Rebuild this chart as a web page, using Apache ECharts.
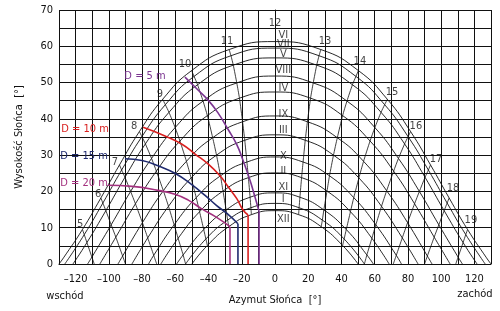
<!DOCTYPE html>
<html lang="pl">
<head>
    <meta charset="UTF-8">
    <title>Wykres drogi Słońca</title>
    <script src="https://cdn.jsdelivr.net/npm/echarts@6/dist/echarts.min.js"></script>
    <style>
        html, body, #chart {
            width: 500px;
            height: 311px;
            padding: 0;
            margin: 0;
            background: #fff;
        }
    </style>
</head>
<body>
<div id="chart"></div>
<script>
    // month curves, top to bottom
    var months = ["VI", "VII", "V", "VIII", "IV", "IX", "III", "X", "II", "XI", "I", "XII"];
    // afternoon sun positions [azimuth, altitude] at 12, 13, ... 20 h (null = below horizon)
    var sunVI   = [[0, 61.3], [27.6, 59.1], [50.2, 53.3], [67.6, 45.4], [81.6, 36.5], [93.6, 27.3], [104.8, 18.2], [115.9, 9.5], [127.3, 1.7]];
    var sunVII  = [[0, 59.5], [26.5, 57.4], [48.7, 51.7], [66.0, 43.9], [80.1, 35.1], [92.3, 25.9], [103.6, 16.8], [114.8, 8.1], null];
    var sunV    = [[0, 56.8], [25.1, 54.8], [46.6, 49.4], [63.8, 41.8], [78.0, 33.1], [90.3, 23.9], [101.8, 14.7], [113.2, 5.9], null];
    var sunVIII = [[0, 51.8], [23.0, 49.9], [43.3, 44.9], [60.1, 37.6], [74.3, 29.1], [86.9, 20.0], [98.6, 10.8], [110.2, 1.9], null];
    var sunIV   = [[0, 47.4], [21.4, 45.7], [40.7, 40.9], [57.2, 33.9], [71.4, 25.6], [84.0, 16.6], [95.8, 7.4], null, null];
    var sunIX   = [[0, 40.8], [19.5, 39.2], [37.5, 34.8], [53.3, 28.3], [67.2, 20.2], [79.8, 11.4], [91.7, 2.2], null, null];
    var sunIII  = [[0, 35.6], [18.2, 34.1], [35.2, 30.0], [50.5, 23.7], [64.1, 15.9], [76.6, 7.2], null, null, null];
    var sunX    = [[0, 29.5], [16.9, 28.1], [32.8, 24.3], [47.4, 18.3], [60.7, 10.8], [73.0, 2.4], null, null, null];
    var sunII   = [[0, 25.1], [16.0, 23.8], [31.3, 20.1], [45.4, 14.4], [58.3, 7.1], null, null, null, null];
    var sunXI   = [[0, 19.6], [15.0, 18.4], [29.4, 14.9], [42.9, 9.5], [55.3, 2.5], null, null, null, null];
    var sunI    = [[0, 16.7], [14.5, 15.5], [28.5, 12.1], [41.6, 6.9], null, null, null, null, null];
    var sunXII  = [[0, 14.7], [14.2, 13.6], [27.8, 10.3], [40.7, 5.1], null, null, null, null, null];
    var sunRows = [sunVI, sunVII, sunV, sunVIII, sunIV, sunIX, sunIII, sunX, sunII, sunXI, sunI, sunXII];
    // azimuth of sunset for each month (sunrise is the mirror)
    var sunsetAz = [130.0, 126.5, 121.6, 112.8, 105.4, 94.5, 86.1, 76.1, 68.7, 59.2, 53.8, 50.0];
    // hour lines that run down to the horizon: azimuth where they meet it
    var hourHorizonAz = {16: 53.8, 17: 71.2, 18: 90.0, 19: 108.8};
    var pmHours = [13, 14, 15, 16, 17, 18, 19];

    // shading limits for distance D to the obstruction, [azimuth, altitude]
    var dNames = ["D = 5 m", "D = 10 m", "D = 15 m", "D = 20 m"];
    var d5  = [[-54.2, 51.5], [-47.1, 48.3], [-40.1, 45.1], [-34.1, 41.5], [-28.1, 37.0], [-23.0, 32.9], [-19.1, 28.4], [-15.0, 23.0], [-12.0, 18.4], [-9.6, 14.5], [-9.6, 0]];
    var d10 = [[-79.4, 37.7], [-66.2, 35.3], [-56.0, 33.0], [-48.1, 30.3], [-40.1, 27.5], [-33.1, 24.3], [-28.1, 21.2], [-23.0, 18.0], [-19.1, 14.8], [-16.2, 13.5], [-16.2, 0]];
    var d15 = [[-90.3, 29.0], [-80.0, 28.5], [-70.0, 27.0], [-60.2, 25.0], [-50.1, 21.9], [-42.1, 18.9], [-35.1, 16.1], [-29.1, 14.0], [-22.3, 11.1], [-22.3, 0]];
    var d20 = [[-100.5, 21.7], [-86.0, 21.4], [-70.4, 20.3], [-60.2, 19.2], [-52.2, 17.6], [-44.1, 15.2], [-34.9, 12.8], [-27.1, 10.3], [-27.1, 0]];
    var dRows = [d5, d10, d15, d20];

    var FONT = "'Liberation Sans Narrow', 'DejaVu Sans Condensed', 'Liberation Sans', sans-serif";
    var dColors = ["#7b3591", "#d9201f", "#1f2a6e", "#a3317f"];

    var myChart = echarts.init(document.getElementById("chart"), null, {renderer: "canvas"});

    var series = [];

    // month curves: sunrise -> noon -> sunset
    sunRows.forEach(function (row, i) {
        var pm = row.filter(function (p) { return p; });
        var am = pm.slice(1).reverse().map(function (p) { return [-p[0], p[1]]; });
        var pts = [[-sunsetAz[i], 0]].concat(am, pm, [[sunsetAz[i], 0]]);
        series.push({
            type: "line", data: pts, showSymbol: false, smooth: 0.5,
            silent: true, z: 3, lineStyle: {color: "#111", width: 0.9}
        });
    });

    // hour lines
    pmHours.forEach(function (h) {
        var pts = [];
        sunRows.forEach(function (row) {
            if (row[h - 12]) pts.push(row[h - 12]);
        });
        if (hourHorizonAz[h] !== undefined) pts.push([hourHorizonAz[h], 0]);
        [1, -1].forEach(function (s) {
            series.push({
                type: "line", data: pts.map(function (p) { return [s * p[0], p[1]]; }),
                showSymbol: false, smooth: 0.2, silent: true, z: 3,
                lineStyle: {color: "#111", width: 0.8}
            });
        });
    });

    // D curves: smooth arc, then straight drop to the horizon
    dRows.forEach(function (row, i) {
        series.push({
            type: "line", data: row.slice(0, -1), showSymbol: false, smooth: 0.5, silent: true, z: 5,
            lineStyle: {color: dColors[i], width: 1.6}
        });
        series.push({
            type: "line", data: row.slice(-2), showSymbol: false, silent: true, z: 5,
            lineStyle: {color: dColors[i], width: 1.6}
        });
    });

    // hour numbers and month numerals
    var hourLabelPos = [[-117.3, 11.1], [-106.5, 19.3], [-96.3, 28.2], [-84.8, 38.0], [-69.2, 46.9], [-54.2, 55.1], [-28.9, 61.3],
        [0, 66.5], [30.1, 61.3], [51.1, 55.9], [70.4, 47.5], [84.8, 38.0], [96.9, 29.0], [107.1, 20.9], [117.9, 12.2]];
    var monthLabelAlt = [63.2, 60.5, 57.8, 53.4, 48.6, 41.2, 36.9, 29.6, 25.5, 21.2, 17.9, 12.5];
    var textData = hourLabelPos.map(function (p, i) {
        return {value: p, name: String(i + 5)};
    }).concat(months.map(function (m, i) {
        return {value: [5, monthLabelAlt[i]], name: m};
    }));
    series.push({
        type: "scatter", data: textData, symbolSize: 0, silent: true, z: 6,
        label: {show: true, position: "inside", formatter: "{b}", color: "#111", fontFamily: FONT, fontSize: 11}
    });

    var dLabelPos = [[145, 76], [85, 129], [84, 156], [84, 183]];
    var graphics = dNames.map(function (t, i) {
        return {
            type: "text", x: dLabelPos[i][0], y: dLabelPos[i][1], z: 10,
            style: {text: t, fill: dColors[i], font: "11px " + FONT, textAlign: "center", textVerticalAlign: "middle"}
        };
    });
    graphics.push({type: "text", x: 65, y: 296, style: {text: "wschód", fill: "#111", font: "11px " + FONT, textAlign: "center", textVerticalAlign: "middle"}});
    graphics.push({type: "text", x: 475, y: 294, style: {text: "zachód", fill: "#111", font: "11px " + FONT, textAlign: "center", textVerticalAlign: "middle"}});

    myChart.setOption({
        animation: false,
        backgroundColor: "#fff",
        grid: {left: 59, right: 9, top: 10, bottom: 43},
        xAxis: {
            type: "value", min: -130, max: 130, interval: 10,
            name: "Azymut Słońca  [°]", nameLocation: "middle", nameGap: 31,
            nameTextStyle: {color: "#111", fontFamily: FONT, fontSize: 11},
            axisLine: {lineStyle: {color: "#111", width: 1}},
            axisTick: {show: false},
            axisLabel: {
                color: "#111", fontFamily: FONT, fontSize: 11, margin: 10,
                formatter: function (v) {
                    if (v % 20 !== 0 || Math.abs(v) > 120) return "";
                    return String(v).replace("-", "\u2013");
                }
            },
            splitLine: {show: true, lineStyle: {color: "#111", width: 1}}
        },
        yAxis: {
            type: "value", min: 0, max: 70, interval: 5,
            name: "Wysokość Słońca  [°]", nameLocation: "middle", nameGap: 34,
            nameTextStyle: {color: "#111", fontFamily: FONT, fontSize: 11},
            axisLine: {lineStyle: {color: "#111", width: 1}},
            axisTick: {show: false},
            axisLabel: {
                color: "#111", fontFamily: FONT, fontSize: 11, margin: 6,
                formatter: function (v) { return v % 10 === 0 ? String(v) : ""; }
            },
            splitLine: {show: true, lineStyle: {color: "#111", width: 1}}
        },
        graphic: graphics,
        series: series
    });
</script>
</body>
</html>
